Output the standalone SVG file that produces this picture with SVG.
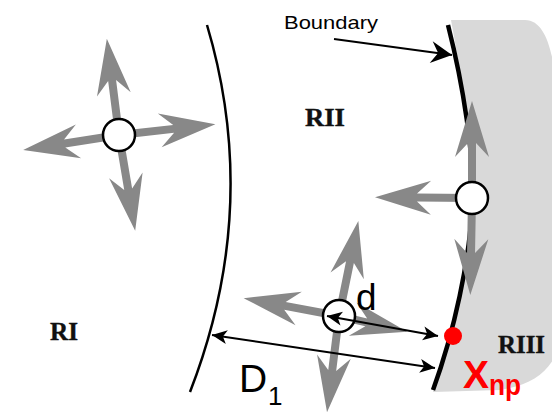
<svg xmlns="http://www.w3.org/2000/svg" xmlns:xlink="http://www.w3.org/1999/xlink" width="552" height="415" viewBox="0 0 552 415">
<style>
.ga{fill:#888888}
.pc{fill:#ffffff;stroke:#000000;stroke-width:2.5}
.bl{fill:none;stroke:#000000;stroke-width:2}
.rl{font-family:"Liberation Serif","Times New Roman",serif;font-weight:bold;font-size:26px;fill:#111111;stroke:#111111;stroke-width:0.4}
.sa{font-family:"Liberation Sans",Arial,sans-serif;fill:#000000}
</style>
<defs>
<path id="ga97" d="M0,-4 L55,-4 L41,-17 L97,0 L41,17 L55,4 L0,4 Z"/>
<path id="ga70" d="M0,-4 L28,-4 L14,-17 L70,0 L14,17 L28,4 L0,4 Z"/>
<marker id="ah" markerUnits="userSpaceOnUse" viewBox="-16 -8 18 16" refX="0" refY="0" markerWidth="18" markerHeight="16" orient="auto-start-reverse">
<path d="M0,0 L-15,-7 L-11,0 L-15,7 Z" fill="#000000"/>
</marker>
<marker id="ahb" markerUnits="userSpaceOnUse" viewBox="-22 -12 24 24" refX="0" refY="0" markerWidth="24" markerHeight="24" orient="auto">
<path d="M0,0 L-21,-11 L-14,0 L-21,11 Z" fill="#000000"/>
</marker>
</defs>

<g id="region-RIII">
<path d="M451,20 L525,20 C545,20 552,50 556,80 L556,355 C545,375 530,385 500,390 L433,392 C455,330 469,260 472,210 C476,160 462,80 451,20 Z" fill="#d9d9d9"/>
</g>

<g id="boundaries">
<path d="M207,25 Q261.5,208 190,392" fill="none" stroke="#000000" stroke-width="2.5"/>
<path d="M448,25 C462,80 476,160 472,210 C469,260 455,330 433,390" fill="none" stroke="#000000" stroke-width="4.5"/>
</g>

<g id="particle-RI">
<use xlink:href="#ga97" class="ga" transform="translate(119,135) rotate(-97.2)"/>
<use xlink:href="#ga97" class="ga" transform="translate(119,135) rotate(-6.4)"/>
<use xlink:href="#ga97" class="ga" transform="translate(119,135) rotate(171.1)"/>
<use xlink:href="#ga97" class="ga" transform="translate(119,135) rotate(80.4)"/>
<circle class="pc" cx="119" cy="135" r="16"/>
</g>

<g id="particle-boundary">
<use xlink:href="#ga97" class="ga" transform="translate(472,198) rotate(-90)"/>
<use xlink:href="#ga97" class="ga" transform="translate(472,198) rotate(91)"/>
<use xlink:href="#ga97" class="ga" transform="translate(472,198) rotate(180.5)"/>
<circle class="pc" cx="472" cy="198" r="16"/>
</g>

<g id="particle-RII">
<use xlink:href="#ga97" class="ga" transform="translate(339,316) rotate(-78.5)"/>
<use xlink:href="#ga97" class="ga" transform="translate(339,316) rotate(-169.4)"/>
<use xlink:href="#ga97" class="ga" transform="translate(339,316) rotate(97.1)"/>
<use xlink:href="#ga70" class="ga" transform="translate(339,316) rotate(13)"/>
<circle class="pc" cx="339" cy="316" r="16"/>
</g>

<g id="connectors">
<line class="bl" x1="334" y1="39" x2="452" y2="55" marker-end="url(#ahb)"/>
<line class="bl" x1="327" y1="316" x2="438" y2="336" marker-start="url(#ah)" marker-end="url(#ah)"/>
<line class="bl" x1="212" y1="335" x2="435" y2="368" marker-start="url(#ah)" marker-end="url(#ah)"/>
</g>

<g id="point-Xnp">
<circle cx="453" cy="336" r="9" fill="#ff0000"/>
</g>

<g id="labels">
<text class="sa" x="284" y="29" font-size="19" textLength="94" lengthAdjust="spacingAndGlyphs">Boundary</text>
<text class="rl" x="305" y="126" textLength="40" lengthAdjust="spacingAndGlyphs">RII</text>
<text class="rl" x="50" y="340" textLength="28" lengthAdjust="spacingAndGlyphs">RI</text>
<text class="rl" x="498" y="353" textLength="47" lengthAdjust="spacingAndGlyphs">RIII</text>
<text class="sa" x="356" y="310" font-size="37">d</text>
<text class="sa" x="239" y="392" font-size="39">D</text>
<text class="sa" x="268" y="405" font-size="26">1</text>
<text class="sa" x="463" y="388" font-size="39" font-weight="bold" style="fill:#ff0000">X</text>
<text class="sa" x="489" y="395" font-size="29" font-weight="bold" style="fill:#ff0000" textLength="32" lengthAdjust="spacingAndGlyphs">np</text>
</g>
</svg>
